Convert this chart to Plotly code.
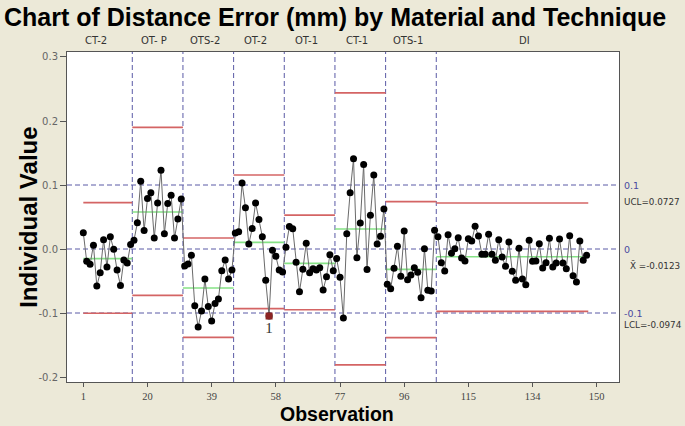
import plotly.graph_objects as go
import numpy as np

# ---------------- data ----------------
groups = ["CT-2", "OT- P", "OTS-2", "OT-2", "OT-1", "CT-1", "OTS-1", "DI"]
group_sizes = [15, 15, 15, 15, 15, 15, 15, 45]

ct2 = [0.0255, -0.019, -0.024, 0.006, -0.058, -0.037, 0.0146, -0.028, 0.019, -0.0005,
       -0.033, -0.057, -0.017, -0.022, 0.007]
otp = [0.0135, 0.041, 0.106, 0.029, 0.079, 0.088, 0.017, 0.072, 0.123, 0.024,
       0.071, 0.084, 0.017, 0.047, 0.078]
ots2 = [-0.0266, -0.0234, -0.0099, -0.0885, -0.122, -0.097, -0.047, -0.090, -0.1125, -0.085,
        -0.078, -0.034, -0.017, -0.047, -0.033]
ot2 = [0.025, 0.027, 0.103, 0.0646, 0.0078, 0.032, 0.072, 0.046, 0.019, -0.049,
       -0.1047, -0.002, -0.0115, -0.033, -0.036]
ot1 = [0.0026, 0.035, 0.0318, -0.0208, -0.0667, -0.0318, 0.0089, -0.037, -0.0307, -0.0328,
       -0.0292, -0.064, -0.0432, -0.0089, -0.0339]
ct1 = [-0.015, -0.044, -0.108, 0.024, 0.088, 0.141, -0.0135, 0.0406, 0.132, -0.032,
       0.0526, 0.1156, 0.0078, 0.0198, 0.0625]
ots1 = [-0.0552, -0.062, -0.0302, 0.0042, -0.0427, 0.0281, -0.0479, -0.0406, -0.0292, -0.0365,
        -0.076, 0.0005, -0.0646, -0.0656, 0.0292]
di = [0.0193, -0.0214, -0.0344, 0.0224, -0.0065, 0.0005, 0.0177, -0.0141, -0.0188, 0.0161,
      0.0125, 0.0354, 0.0203, -0.0083, -0.0083, 0.0229, -0.0083, -0.0177, 0.0146, -0.0125,
      -0.0271, 0.0109, -0.0349, -0.049, 0.001, -0.0469, -0.0557, 0.0135, -0.0193, -0.0188,
      0.0083, -0.0297, -0.0214, 0.0167, -0.0281, -0.0219, 0.0156, -0.0219, -0.0307, 0.0208,
      -0.0417, -0.0516, 0.0125, -0.0177, -0.0099]

ucl = [0.0724, 0.190, 0.0172, 0.1156, 0.053, 0.244, 0.074, 0.0719]
center = [-0.0151, 0.0578, -0.061, 0.0104, -0.0224, 0.0313, -0.0318, -0.0120]
lcl = [-0.1005, -0.0724, -0.138, -0.0932, -0.0948, -0.181, -0.1385, -0.0974]

ref_lines = [0.1, 0.0, -0.1]
ref_labels = ["0.1", "0", "-0.1"]
stat_names = ["UCL=0.0727", "X\u0304 =-0.0123", "LCL=-0.0974"]
stat_values = [0.0727, -0.0123, -0.0974]

flagged_obs = [56]
flag_text = ["1"]

x_tickvals = [1, 20, 39, 58, 77, 96, 115, 134, 153]
x_ticktext = ["1", "20", "39", "58", "77", "96", "115", "134", "150"]
y_tickvals = [-0.2, -0.1, 0.0, 0.1, 0.2, 0.3]
y_ticktext = ["-0.2", "-0.1", "0.0", "0.1", "0.2", "0.3"]

# ---------------- build ----------------
values = ct2 + otp + ots2 + ot2 + ot1 + ct1 + ots1 + di
obs = np.arange(1, len(values) + 1)

X_RANGE = [-3.83, 159.6]
Y_RANGE = [-0.2078, 0.3078]

RED = "#d46464"
GREEN = "#86e286"
BLUE = "#5a5aa6"

fig = go.Figure()

ends = np.cumsum(group_sizes)
starts = ends - np.array(group_sizes) + 1

# limit lines per stage
for i in range(len(groups)):
    x0 = 1 if i == 0 else starts[i] - 0.5
    x1 = ends[i] + 0.5
    for val, col in ((ucl[i], RED), (lcl[i], RED), (center[i], GREEN)):
        fig.add_trace(go.Scatter(x=[x0, x1], y=[val, val], mode="lines",
                                 line=dict(color=col, width=1.6),
                                 hoverinfo="skip", showlegend=False))

# data line + markers
fig.add_trace(go.Scatter(x=obs, y=values, mode="lines+markers",
                         line=dict(color="#6a6a6a", width=1),
                         marker=dict(color="black", size=7),
                         showlegend=False))

# flagged point
fx = [o for o in flagged_obs]
fy = [values[o - 1] for o in flagged_obs]
fig.add_trace(go.Scatter(x=fx, y=fy, mode="markers+text",
                         marker=dict(color="#8c2424", size=7, symbol="square"),
                         text=flag_text, textposition="bottom center",
                         textfont=dict(family="Liberation Serif", size=15, color="#333"),
                         showlegend=False))

# vertical stage boundaries
for e in ends[:-1]:
    fig.add_shape(type="line", xref="x", yref="paper", x0=e + 0.5, x1=e + 0.5, y0=0, y1=1,
                  line=dict(color=BLUE, width=1, dash="5px,3px"), layer="below")

# horizontal reference lines
for r in ref_lines:
    fig.add_shape(type="line", xref="paper", yref="y", x0=0, x1=1, y0=r, y1=r,
                  line=dict(color=BLUE, width=1, dash="5px,3px"), layer="below")

annotations = []
# right-side labels
for r, t in zip(ref_lines, ref_labels):
    annotations.append(dict(x=1.006, xref="paper", y=r, yref="y", text=t, showarrow=False,
                            xanchor="left", yanchor="middle",
                            font=dict(family="DejaVu Sans", size=9.5, color="#4a4aa0")))
shifts = [0, -9, -14]
xoffs = [0, 6, 0]
for t, v, s, xo in zip(stat_names, stat_values, shifts, xoffs):
    annotations.append(dict(x=1.006, xref="paper", y=v, yref="y", text=t, showarrow=False,
                            xanchor="left", yanchor="middle", yshift=s, xshift=xo,
                            font=dict(family="DejaVu Sans", size=8.8, color="#333")))

# stage labels on top
bounds = [X_RANGE[0]] + [e + 0.5 for e in ends[:-1]] + [X_RANGE[1]]
for i, g in enumerate(groups):
    mid = (bounds[i] + bounds[i + 1]) / 2
    annotations.append(dict(x=mid - 1, xref="x", y=1.036, yref="paper", text=g, showarrow=False,
                            xanchor="center", yanchor="middle",
                            font=dict(family="DejaVu Sans", size=10, color="#333")))

# axis titles
annotations.append(dict(x=-0.071, xref="paper", y=0.5, yref="paper", text="<b>Individual Value</b>",
                        textangle=-90, showarrow=False, xanchor="center", yanchor="middle",
                        font=dict(family="Liberation Sans", size=24, color="black")))
annotations.append(dict(x=0.489, xref="paper", y=-0.096, yref="paper", text="<b>Observation</b>",
                        showarrow=False, xanchor="center", yanchor="middle",
                        font=dict(family="Liberation Sans", size=19.5, color="black")))

fig.update_layout(
    width=685, height=426,
    margin=dict(l=67, r=66, t=52, b=44),
    paper_bgcolor="#ECE9D8",
    plot_bgcolor="white",
    title=dict(text="<b>Chart of Distance Error (mm) by Material and Technique</b>",
               x=4 / 685, xref="container", xanchor="left",
               y=1 - 17 / 426, yref="container", yanchor="middle",
               font=dict(family="Liberation Sans", size=25, color="black")),
    annotations=annotations,
    showlegend=False,
)
fig.update_xaxes(range=X_RANGE, tickvals=x_tickvals, ticktext=x_ticktext,
                 ticks="outside", ticklen=4, tickcolor="#555", showgrid=False, zeroline=False,
                 showline=True, linecolor="#555", mirror=True,
                 tickfont=dict(family="Liberation Serif", size=10.5, color="#444"))
fig.update_yaxes(range=Y_RANGE, tickvals=y_tickvals, ticktext=y_ticktext,
                 ticks="outside", ticklen=6, tickcolor="#555", showgrid=False, zeroline=False,
                 showline=True, linecolor="#555", mirror=True,
                 tickfont=dict(family="DejaVu Sans", size=10, color="#666"))

fig.write_html(
    "out.html",
    config={"displayModeBar": False},
    post_script="document.body.style.margin='0px';document.body.style.padding='0px';"
                "document.body.style.background='#ECE9D8';"
                "document.documentElement.style.overflow='hidden';",
)
